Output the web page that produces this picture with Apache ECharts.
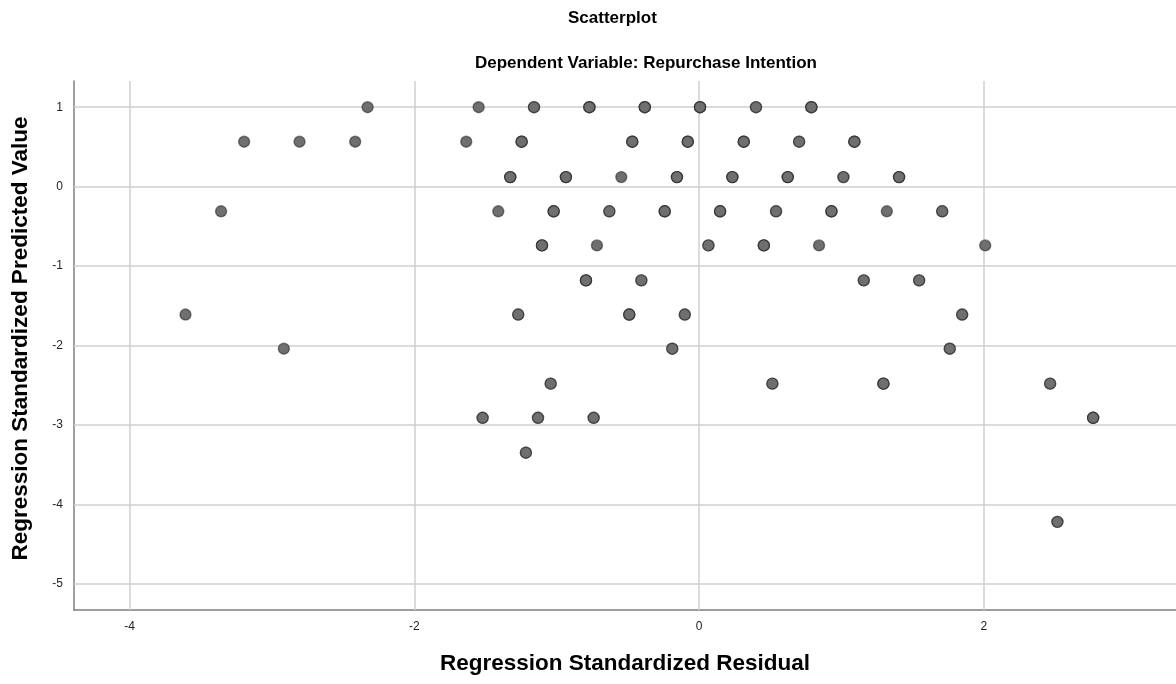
<!DOCTYPE html>
<html>
<head>
<meta charset="utf-8">
<script src="https://cdn.jsdelivr.net/npm/echarts@6/dist/echarts.min.js"></script>
<style>
html,body{margin:0;padding:0;background:#fff;}
#chart{width:1176px;height:684px;}
</style>
</head>
<body>
<div id="chart"></div>
<script>
// Regression standardized residual (x) and predicted value (y) per point
var residual = [
  -2.328, -1.548, -1.159, -0.770, -0.381, 0.007, 0.400, 0.789,
  -3.195, -2.806, -2.415, -1.635, -1.246, -0.469, -0.079, 0.314, 0.703, 1.091,
  -1.326, -0.935, -0.546, -0.155, 0.234, 0.623, 1.014, 1.405,
  -3.357, -1.410, -1.021, -0.630, -0.241, 0.148, 0.541, 0.930, 1.319, 1.708,
  -1.103, -0.717, 0.066, 0.455, 0.843, 2.010,
  -0.794, -0.405, 1.157, 1.546,
  -3.607, -1.270, -0.490, -0.100, 1.848,
  -2.916, -0.188, 1.761,
  -1.042, 0.515, 1.295, 2.466,
  -1.520, -1.131, -0.740, 2.768,
  -1.216,
  2.517
];
var predicted = [
  1.00, 1.00, 1.00, 1.00, 1.00, 1.00, 1.00, 1.00,
  0.566, 0.566, 0.566, 0.566, 0.566, 0.566, 0.566, 0.566, 0.566, 0.566,
  0.12, 0.12, 0.12, 0.12, 0.12, 0.12, 0.12, 0.12,
  -0.31, -0.31, -0.31, -0.31, -0.31, -0.31, -0.31, -0.31, -0.31, -0.31,
  -0.74, -0.74, -0.74, -0.74, -0.74, -0.74,
  -1.18, -1.18, -1.18, -1.18,
  -1.61, -1.61, -1.61, -1.61, -1.61,
  -2.04, -2.04, -2.04,
  -2.48, -2.48, -2.48, -2.48,
  -2.91, -2.91, -2.91, -2.91,
  -3.35,
  -4.22
];
// estimated number of overlapping cases at each position
var overlap = [
  1, 1, 2, 3, 3, 3, 2, 3,
  1, 1, 1, 1, 3, 3, 3, 3, 2, 3,
  3, 3, 1, 3, 3, 3, 2, 3,
  1, 1, 3, 2, 3, 3, 2, 3, 1, 2,
  3, 1, 2, 3, 1, 1,
  3, 2, 2, 2,
  1, 2, 3, 2, 2,
  1, 2, 2,
  2, 2, 3, 2,
  2, 2, 2, 3,
  2,
  2
];
var xTicks = [-4, -2, 0, 2];
var yTicks = [-5, -4, -3, -2, -1, 0, 1];
var xRange = [-4.39, 3.35];
var yRange = [-5.33, 1.33];

var pts = [];
for (var i = 0; i < residual.length; i++) {
  for (var k = 0; k < overlap[i]; k++) pts.push([residual[i], predicted[i]]);
}
var gridLines = [];
xTicks.forEach(function (v) { gridLines.push({ xAxis: v }); });
yTicks.forEach(function (v) { gridLines.push({ yAxis: v }); });

var FONT = '"Liberation Sans", Arial, sans-serif';
var chart = echarts.init(document.getElementById('chart'), null, { renderer: 'canvas' });
chart.setOption({
  animation: false,
  backgroundColor: '#ffffff',
  title: [
    { text: 'Scatterplot', left: 563, top: 5,
      textStyle: { fontFamily: FONT, fontSize: 17, fontWeight: 'bold', color: '#000' } },
    { text: 'Dependent Variable: Repurchase Intention', left: 470, top: 50,
      textStyle: { fontFamily: FONT, fontSize: 17, fontWeight: 'bold', color: '#000' } }
  ],
  grid: { left: 74, right: 0, top: 81, bottom: 74, containLabel: false },
  xAxis: {
    type: 'value', min: xRange[0], max: xRange[1],
    name: 'Regression Standardized Residual', nameLocation: 'middle', nameGap: 42,
    nameTextStyle: { fontFamily: FONT, fontSize: 22.5, fontWeight: 'bold', color: '#000' },
    axisLine: { show: true, onZero: false, lineStyle: { color: '#7f7f7f', width: 1.5 } },
    axisTick: { show: false },
    splitLine: { show: false },
    axisLabel: { customValues: xTicks, fontFamily: FONT, fontSize: 12, color: '#222', margin: 11 }
  },
  yAxis: {
    type: 'value', min: yRange[0], max: yRange[1],
    name: 'Regression Standardized Predicted Value', nameLocation: 'middle', nameGap: 42,
    nameTextStyle: { fontFamily: FONT, fontSize: 22.5, fontWeight: 'bold', color: '#000', padding: [0, 0, 0, 14] },
    axisLine: { show: true, onZero: false, lineStyle: { color: '#7f7f7f', width: 1.5 } },
    axisTick: { show: false },
    splitLine: { show: false },
    axisLabel: { customValues: yTicks, fontFamily: FONT, fontSize: 12, color: '#222', margin: 11 }
  },
  series: [
    {
      type: 'scatter', data: [], z: 1, silent: true,
      markLine: {
        z: 1, zlevel: 0,
        silent: true, symbol: ['none', 'none'], animation: false,
        label: { show: false },
        lineStyle: { color: '#cfcfcf', width: 1.5, type: 'solid' },
        emphasis: { disabled: true },
        data: gridLines
      }
    },
    {
      type: 'scatter', z: 10, symbol: 'circle', symbolSize: 11,
      data: pts,
      itemStyle: { color: '#6f6f6f', borderColor: 'rgba(25,25,25,0.5)', borderWidth: 1.4, opacity: 1 }
    }
  ]
});
</script>
</body>
</html>
